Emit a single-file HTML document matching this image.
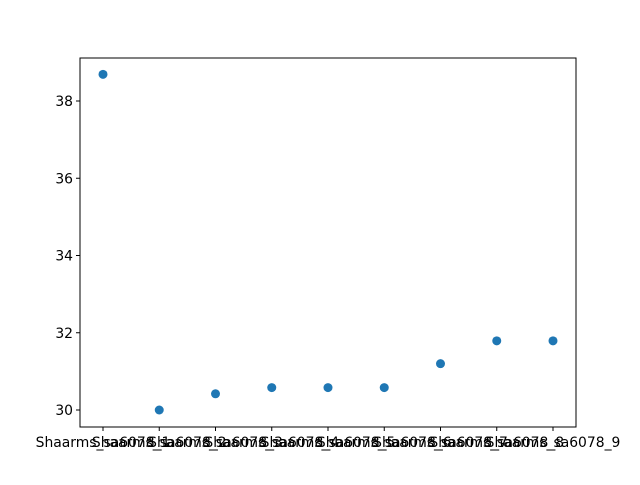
<!DOCTYPE html>
<html><head><meta charset="utf-8"><style>
body{margin:0;background:#fff}
text{font-family:"DejaVu Sans","Liberation Sans",sans-serif;font-size:13.9px;fill:#000}
</style></head><body>
<svg id="chart" width="640" height="480" xmlns="http://www.w3.org/2000/svg">
<rect x="80" y="58" width="496" height="369" fill="none" stroke="#000" stroke-width="1"/>
<g id="marks"></g><g id="xt"></g><g id="yt"></g>
</svg>
<script>
const categories=["Shaarms_sa6078_1","Shaarms_sa6078_2","Shaarms_sa6078_3","Shaarms_sa6078_4","Shaarms_sa6078_5","Shaarms_sa6078_6","Shaarms_sa6078_7","Shaarms_sa6078_8","Shaarms_sa6078_9"];
const values=[38.69,30.0,30.42,30.58,30.58,30.58,31.2,31.79,31.79];
const yTicks=[30,32,34,36,38];
const NS="http://www.w3.org/2000/svg";
const x=i=>103+i*(553-103)/(categories.length-1);
const y=v=>410-(v-30)*(410-101)/8;
function mk(t,a,p){const e=document.createElementNS(NS,t);for(const k in a)e.setAttribute(k,a[k]);p.appendChild(e);return e;}
const M=document.getElementById('marks'),XT=document.getElementById('xt'),YT=document.getElementById('yt');
values.forEach((v,i)=>{
 const c=mk('circle',{cx:x(i),cy:y(v),r:4.5,fill:'#1f77b4'},M);
 
 
});
categories.forEach((c,i)=>{
 const l=mk('line',{x1:x(i),x2:x(i),y1:427,y2:431,stroke:'#000'},XT);
 
 
 const t=mk('text',{x:x(i),y:447,'text-anchor':'middle'},XT);t.textContent=c;
 
 
});
yTicks.forEach(v=>{
 const l=mk('line',{x1:76,x2:80,y1:y(v),y2:y(v),stroke:'#000'},YT);
 
 
 const t=mk('text',{x:73,y:y(v)+5,'text-anchor':'end'},YT);t.textContent=v;
 
 
});
</script>
</body></html>
